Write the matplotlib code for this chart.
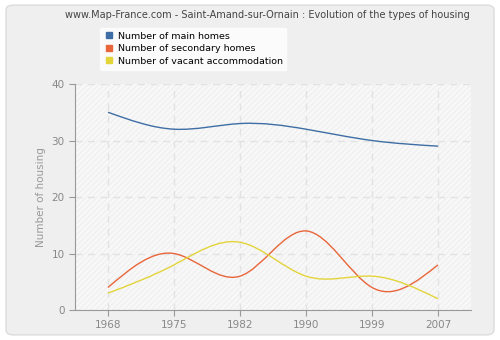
import matplotlib
matplotlib.use("Agg")
import matplotlib.pyplot as plt
from matplotlib.path import Path
from matplotlib.patches import PathPatch, FancyBboxPatch
from matplotlib.lines import Line2D
import numpy as np

# data
years = ["1968", "1975", "1982", "1990", "1999", "2007"]
main_homes = [35, 32, 33, 32, 30, 29]
secondary_homes = [4, 10, 6, 14, 4, 8]
vacant = [3, 8, 12, 6, 6, 2]

series = [
    ("Number of main homes", main_homes, "#3e6ea5"),
    ("Number of secondary homes", secondary_homes, "#e8663a"),
    ("Number of vacant accommodation", vacant, "#e3d43a"),
]


def smooth_path(xs, ys):
    # natural cubic spline turned into bezier segments for matplotlib's Path
    xs = np.asarray(xs, float)
    ys = np.asarray(ys, float)
    n = len(xs)
    A = np.zeros((n, n))
    rhs = np.zeros(n)
    A[0, 0] = A[-1, -1] = 1
    for i in range(1, n - 1):
        A[i, i - 1], A[i, i], A[i, i + 1] = 1, 4, 1
        rhs[i] = 6 * (ys[i + 1] - 2 * ys[i] + ys[i - 1])
    M = np.linalg.solve(A, rhs)
    verts = [(xs[0], ys[0])]
    codes = [Path.MOVETO]
    for i in range(n - 1):
        d = ys[i + 1] - ys[i]
        m0 = d - (2 * M[i] + M[i + 1]) / 6
        m1 = d + (M[i] + 2 * M[i + 1]) / 6
        verts += [(xs[i] + 1 / 3, ys[i] + m0 / 3),
                  (xs[i + 1] - 1 / 3, ys[i + 1] - m1 / 3),
                  (xs[i + 1], ys[i + 1])]
        codes += [Path.CURVE4] * 3
    return Path(verts, codes)


plt.rcParams["hatch.color"] = "#eeeeee"

fig = plt.figure(figsize=(5, 3.4), dpi=100)
fig.patch.set_facecolor("white")
fig.patches.append(FancyBboxPatch((0.012, 0.015), 0.976, 0.97,
                                  boxstyle="round,pad=0,rounding_size=0.015",
                                  transform=fig.transFigure, facecolor="#efefef",
                                  edgecolor="#dcdcdc", linewidth=1, zorder=-10))

ax = fig.add_axes([0.15, 0.088, 0.792, 0.665])
ax.set_facecolor("#f8f8f8")
ax.patch.set_hatch("//////")
ax.patch.set_edgecolor("#f0f0f0")
ax.patch.set_linewidth(0)

x = np.arange(len(years))
for label, vals, color in series:
    ax.add_patch(PathPatch(smooth_path(x, vals), facecolor="none",
                           edgecolor=color, linewidth=1, zorder=3))

ax.set_xlim(-0.5, len(years) - 0.5)
ax.set_ylim(0, 40)
ax.set_xticks(x)
ax.set_xticklabels(years)
ax.set_yticks([0, 10, 20, 30, 40])
ax.grid(True, color="#e2e2e2", linestyle=(0, (5, 4)), linewidth=1)
ax.set_axisbelow(True)
for s in ["top", "right"]:
    ax.spines[s].set_visible(False)
for s in ["left", "bottom"]:
    ax.spines[s].set_color("#999999")
ax.tick_params(colors="#999999", labelcolor="#888888", labelsize=7.5, length=4)
ax.set_ylabel("Number of housing", color="#999999", fontsize=7.5)

fig.text(0.534, 0.955, "www.Map-France.com - Saint-Amand-sur-Ornain : Evolution of the types of housing",
         ha="center", va="center", fontsize=7, color="#444444")

handles = [Line2D([], [], marker="s", linestyle="none", color=c, markersize=4.5)
           for _, _, c in series]
leg = fig.legend(handles, [s[0] for s in series], loc="upper left",
                 bbox_to_anchor=(0.19, 0.932), fontsize=6.8, frameon=True,
                 handletextpad=0.3, labelspacing=0.38, borderpad=0.4,
                 fancybox=True, handlelength=1.2)
leg.get_frame().set_facecolor("white")
leg.get_frame().set_edgecolor("white")

fig.savefig("out.png", dpi=100)
